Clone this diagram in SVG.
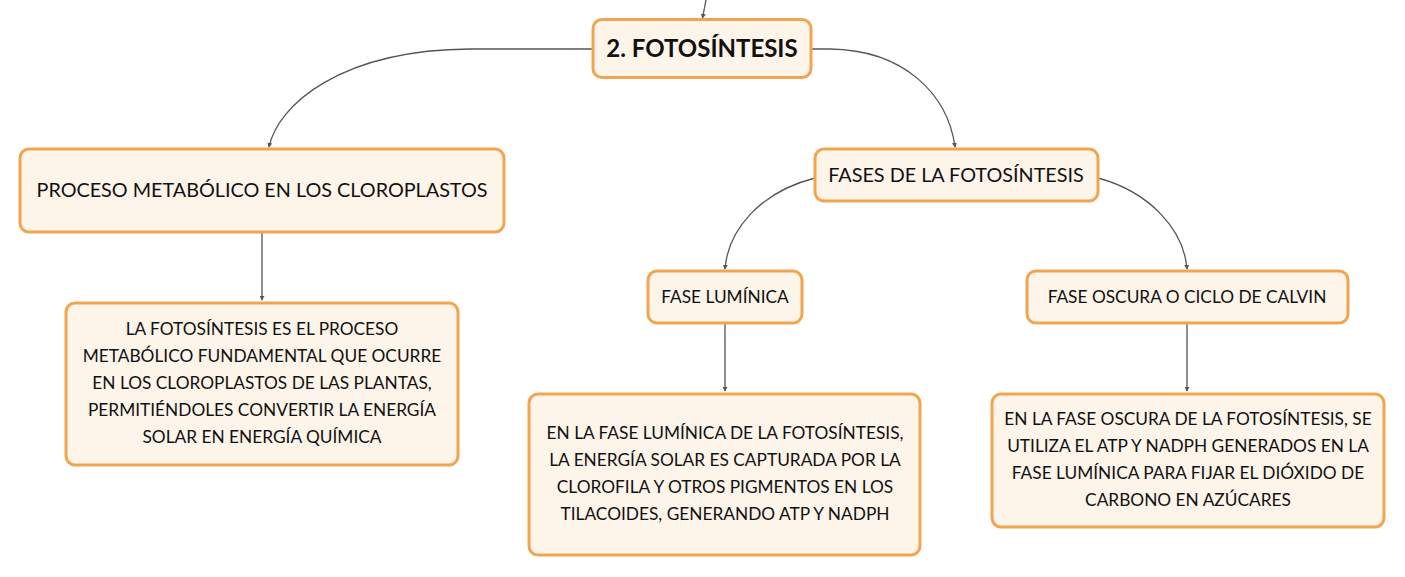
<svg xmlns="http://www.w3.org/2000/svg" width="1405" height="577" viewBox="0 0 1405 577">
<style>
.box{fill:#fdf4ea;stroke:#f2a550;stroke-width:3}
.t{font-family:Lato,"Open Sans",sans-serif;fill:#111;text-anchor:middle}
.s{font-size:17.3px}
.m{font-size:19.8px}
.b{font-size:24px;font-weight:bold}
.c{fill:none;stroke:#555;stroke-width:1.3}
</style>
<defs>
<marker id="a" viewBox="0 0 6 6" refX="5" refY="3" markerWidth="5" markerHeight="5" orient="auto" markerUnits="userSpaceOnUse">
<path d="M0,0 L6,3 L0,6 z" fill="#555"/>
</marker>
</defs>
<rect width="1405" height="577" fill="#ffffff"/>
<g id="connectors">
<path class="c" d="M706,0 L702.5,18" marker-end="url(#a)"/>
<path class="c" d="M593,49 L470,49 C340,50 278,105 269,147" marker-end="url(#a)"/>
<path class="c" d="M811,49 L830,49 C905,50 948,95 955,147" marker-end="url(#a)"/>
<path class="c" d="M815,178 C760,192 728,230 725,269" marker-end="url(#a)"/>
<path class="c" d="M1098,178 C1150,192 1184,230 1187,269" marker-end="url(#a)"/>
<path class="c" d="M262,233 L262,300" marker-end="url(#a)"/>
<path class="c" d="M725,324 L725,391" marker-end="url(#a)"/>
<path class="c" d="M1187,324 L1187,391" marker-end="url(#a)"/>
</g>
<g id="n-main">
<rect class="box" x="593" y="19.5" width="218" height="58" rx="9"/>
<text class="t b" x="702" y="57">2. FOTOSÍNTESIS</text>
</g>
<g id="n-proceso">
<rect class="box" x="20" y="149" width="484" height="83" rx="9"/>
<text class="t m" x="262" y="197">PROCESO METABÓLICO EN LOS CLOROPLASTOS</text>
</g>
<g id="n-proceso-desc">
<rect class="box" x="66" y="303" width="392" height="162" rx="9"/>
<text class="t s" x="262" y="335">LA FOTOSÍNTESIS ES EL PROCESO</text>
<text class="t s" x="262" y="362">METABÓLICO FUNDAMENTAL QUE OCURRE</text>
<text class="t s" x="262" y="389">EN LOS CLOROPLASTOS DE LAS PLANTAS,</text>
<text class="t s" x="262" y="416">PERMITIÉNDOLES CONVERTIR LA ENERGÍA</text>
<text class="t s" x="262" y="443">SOLAR EN ENERGÍA QUÍMICA</text>
</g>
<g id="n-fases">
<rect class="box" x="815" y="149" width="283" height="52" rx="9"/>
<text class="t m" x="956" y="182">FASES DE LA FOTOSÍNTESIS</text>
</g>
<g id="n-luminica">
<rect class="box" x="648" y="271" width="154" height="52" rx="9"/>
<text class="t s" x="725" y="303">FASE LUMÍNICA</text>
</g>
<g id="n-oscura">
<rect class="box" x="1027" y="271" width="321" height="52" rx="9"/>
<text class="t s" x="1187" y="303">FASE OSCURA O CICLO DE CALVIN</text>
</g>
<g id="n-luminica-desc">
<rect class="box" x="529" y="394" width="391" height="161" rx="9"/>
<text class="t s" x="725" y="439">EN LA FASE LUMÍNICA DE LA FOTOSÍNTESIS,</text>
<text class="t s" x="725" y="466">LA ENERGÍA SOLAR ES CAPTURADA POR LA</text>
<text class="t s" x="725" y="493">CLOROFILA Y OTROS PIGMENTOS EN LOS</text>
<text class="t s" x="725" y="520">TILACOIDES, GENERANDO ATP Y NADPH</text>
</g>
<g id="n-oscura-desc">
<rect class="box" x="992" y="394" width="392" height="133" rx="9"/>
<text class="t s" x="1188" y="425">EN LA FASE OSCURA DE LA FOTOSÍNTESIS, SE</text>
<text class="t s" x="1188" y="452">UTILIZA EL ATP Y NADPH GENERADOS EN LA</text>
<text class="t s" x="1188" y="479">FASE LUMÍNICA PARA FIJAR EL DIÓXIDO DE</text>
<text class="t s" x="1188" y="506">CARBONO EN AZÚCARES</text>
</g>
</svg>
